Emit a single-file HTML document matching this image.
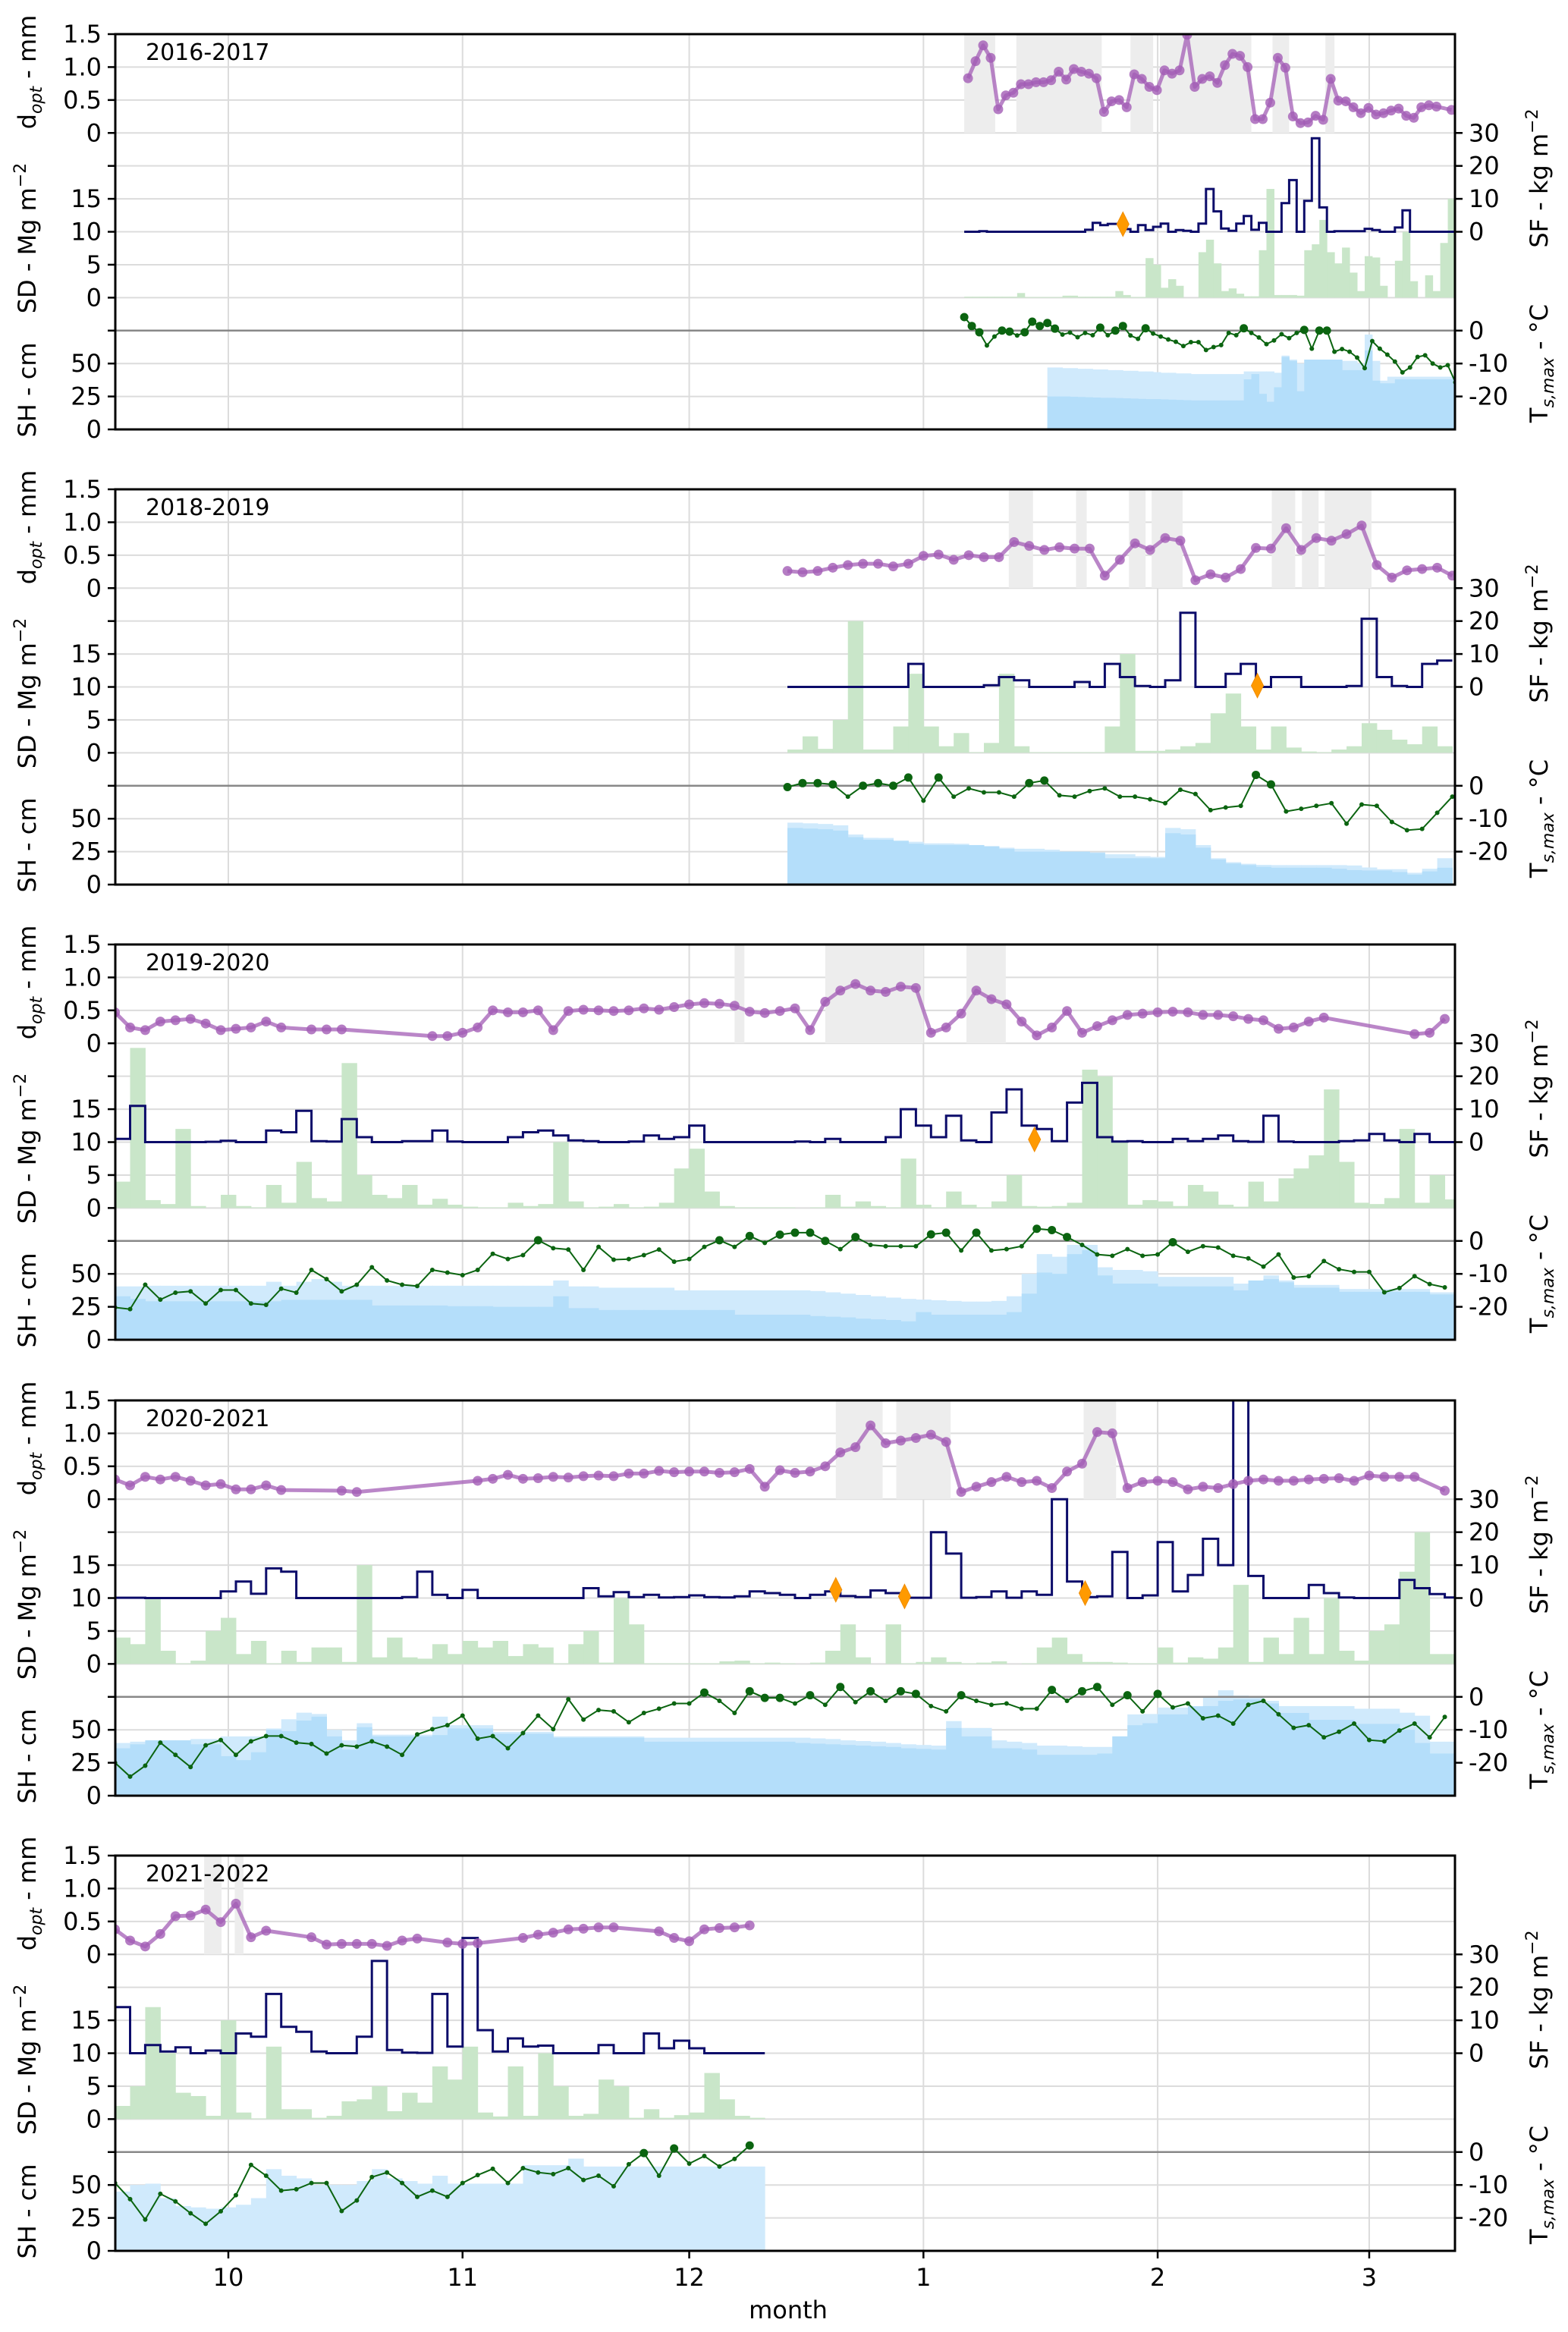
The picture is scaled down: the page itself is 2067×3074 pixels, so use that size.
<!DOCTYPE html>
<html><head><meta charset="utf-8"><title>Snow panels</title>
<style>html,body{margin:0;padding:0;background:#fff}svg{display:block}text{font-family:"DejaVu Sans","Liberation Sans",sans-serif;fill:#000}</style>
</head><body>
<svg id="chart" xmlns="http://www.w3.org/2000/svg" width="2067" height="3074" viewBox="0 0 2067 3074"></svg>
<script>
// ---------- DATA (days since Oct 1) ----------
const seasonLabels = ["2016-2017","2018-2019","2019-2020","2020-2021","2021-2022"];
const monthTickDays = [0,31,61,92,123,151];
const monthTickLabels = ["10","11","12","1","2","3"];

// 2016-2017
const step16 = 1;
const dopt16Start = 97.9;
const dopt16 = [0.83,1.09,1.33,1.14,0.36,0.57,0.61,0.74,0.74,0.77,0.77,0.8,0.93,0.81,0.97,0.93,0.9,0.83,0.32,0.48,0.5,0.39,0.89,0.82,0.7,0.65,0.95,0.9,0.95,1.49,0.7,0.82,0.86,0.76,1.03,1.2,1.17,1.0,0.21,0.21,0.46,1.14,0.99,0.25,0.15,0.16,0.26,0.2,0.82,0.49,0.48,0.39,0.3,0.38,0.28,0.3,0.34,0.37,0.26,0.23,0.39,0.42,0.4,null,0.35];
const start16 = 97.4;
const sf16 = [0,0,0.2,0,0,0,0,0,0,0,0,0,0,0,0,0,0.6,2.7,2,2.4,2.4,0.8,0,2,0.5,1.5,2.5,0,0.5,0.3,0,2.5,13,6.2,1,0.3,2.5,4.8,0.6,2.7,0,0,8.7,15.7,0,9.4,28.4,7.4,0,0.2,0.2,0.2,0.2,0.9,0.5,0,0,1.3,6.5,0,0,0,0,0,0];
const sd16 = [0.15,0.15,0.15,0.15,0.15,0.15,0.15,0.7,0.1,0.1,0.1,0.1,0.1,0.3,0.3,0.15,0.15,0.15,0.15,0.15,1,0.4,0.1,0.1,6,5,1.5,2.8,1.8,0,0,6.9,8.8,5.2,1,1.4,0.6,0.2,0.2,7.2,16.5,0.4,0.4,0.4,0.3,7.2,8.1,11.8,6.9,5.2,7.6,3.8,1,6.3,6.1,1.8,0,5.6,10,2.5,0,3.4,1,8.3,15];
const ts16 = [4.1,1.4,-0.5,-4.5,-1.8,0,-0.3,-1.5,-0.5,2.7,1.4,2.3,0.6,-1.2,-0.6,-2,-0.7,-1.4,0.9,-1.4,0,1.4,-1.5,-2.5,0.7,-0.9,-1.8,-2.7,-3.4,-4.7,-3.5,-3.5,-5.9,-5,-4.4,-0.7,-1.4,0.7,-0.7,-2.1,-4.1,-3,-1.1,-2.3,-0.7,0.2,-5.5,0,0,-6.4,-5.6,-6.4,-8.2,-11.4,-3.2,-5.5,-7.3,-9.4,-12.7,-11.2,-8,-7.5,-10,-11.2,-10.5,-15.7];
const sh16Start = 108.4;
const shLight16 = [47,47,46.5,46.5,46,46,45.5,45.5,45,45,44.5,44.5,44,44,43.5,43,43,42.5,42.5,42,42,42,42,42,42,42,44,44,44,44,43,56,53,50,53,53,53,53,53,52,52,50,72,52,37,40,40,40,40,40,40,40,40,40];
const shDark16 = [25,25,25,24.8,24.6,24.4,24.2,24,24,23.8,23.6,23.4,23.2,23,23,22.8,22.6,22.4,22.2,22,22,22,22,22,22,22,38,42,27,21,32,55,52,29,53,53,53,53,53,45,45,45,60,37,35,35,38,38,38,38,38,38,38,38];
const bands16 = [[97.4,101.5],[104.3,115.6],[119.4,122.4],[123.3,135.4],[138.2,140.4],[145.2,146.4]];
const diamonds16 = [[118.4,2.3]];

// 2018-2019
const step18 = 2;
const start18 = 74;
const dopt18 = [0.26,0.24,0.26,0.31,0.35,0.37,0.37,0.33,0.37,0.49,0.51,0.43,0.5,0.47,0.47,0.7,0.64,0.58,0.62,0.6,0.6,0.19,0.43,0.68,0.58,0.76,0.72,0.12,0.21,0.16,0.29,0.61,0.6,0.91,0.58,0.76,0.72,0.82,0.95,0.35,0.16,0.27,0.29,0.31,0.19];
const sf18 = [0,0,0,0,0,0,0,0,7,0,0,0,0,0.5,3,2,0,0,0,1.5,0,7,3,0.3,0,2,22.5,0,0,4,7,0,3,3,0,0,0,0.3,20.7,3,0.3,0,7,8];
const sd18 = [0.5,2.5,0.6,5,20,0.5,0.5,4,12,4,1,3,0.1,1.5,12,1,0.1,0.1,0.1,0.1,0.1,4,15,0.3,0.3,0.5,1,1.5,6,9,4,0.5,4,0.8,0.2,0.1,0.5,1,4.5,3.5,2,1.3,4,1];
const ts18 = [-0.4,0.8,0.8,0.4,-3.3,0,0.8,0,2.5,-4.5,2.5,-3.3,-0.8,-2,-2,-3.3,0.8,1.6,-2.9,-3.3,-1.6,-0.8,-3.3,-3.3,-4.1,-5.3,-1.2,-2.5,-7.4,-6.6,-6.1,3.3,0.4,-7.8,-7,-6.1,-5.3,-11.5,-5.7,-6.1,-11,-13.5,-13.1,-8.2,-3.3];
const shLight18 = [47,46.5,46,45,38,35.5,35.4,33.5,32.5,31.3,31.3,31,29.5,29.2,28,27.2,27.2,26.5,25.1,25.1,24.5,23,23,21.5,21,43,42,30,20,17,15.8,15,14.8,14.8,14.8,14.8,14.8,14.5,13,11.7,11.7,9,12,20];
const shDark18 = [43,42.5,42,41,36,34,34,33,31,30,30,30,30,29,27,25,25,25,25,25,24,20,20,20,20,39,38,28,19,16,14.8,13.5,12.8,12.8,12.8,12.8,12,11,10.7,10.7,9.5,7.6,10,12.8];
const bands18 = [[103.3,106.5],[112.2,113.6],[119.2,121.4],[122.2,126.3],[138.1,141.2],[142.1,144.3],[145.1,151.3]];
const diamonds18 = [[136.2,0.4]];

// 2019-2020
const step19 = 2;
const start19 = -15;
const dopt19 = [0.47,0.24,0.2,0.33,0.35,0.37,0.3,0.2,0.22,0.24,0.33,0.24,null,0.21,0.21,0.21,null,null,null,null,null,0.11,0.11,0.16,0.24,0.5,0.47,0.47,0.5,0.2,0.49,0.51,0.5,0.49,0.5,0.53,0.51,0.55,0.59,0.61,0.6,0.57,0.48,0.46,0.49,
  0.53,0.2,0.63,0.8,0.9,0.8,0.78,0.86,0.84,0.16,0.24,0.45,0.8,0.67,0.59,0.33,0.12,0.24,0.49,0.16,0.26,0.35,0.43,0.45,0.47,0.48,0.47,0.43,0.43,0.41,0.37,0.35,0.22,0.24,0.33,0.39,null,null,null,null,null,0.14,0.16,0.37];
const sf19 = [1,11,0,0,0,0,0.1,0.4,0,0,3.5,3,9.5,0.3,0.2,7,1.5,0,0,0.3,0.3,3.5,0.2,0,0,0,1.5,3,3.5,2,0.5,0.3,0,0,0.2,2,1,1.5,5,0,0,0,0,0,0,
  0.2,0,1,0,0,0,1.5,10,5,1.5,8,0.5,0,9,16,5,4,0.3,12,18,1.5,0.2,0.3,0,0,1,0.3,1,2,0.3,0.1,8,0.2,0,0,0,0.3,0.5,2.5,0.5,0,2.5,0,0];
const sd19 = [4,24.3,1.2,0.6,12,0.3,0,2,0.3,0.1,3.5,0.8,7,1.5,1,22,5,2,1.5,3.5,0.5,1.4,0.5,0.2,0.1,0.1,0.8,0.3,0.6,10,1,0.1,0.2,0.6,0.1,0.2,0.8,6,9,2.5,0.3,0.1,0.1,0.1,0.1,
  0,0.1,2,0.2,1,0.3,0.1,7.5,0.5,0.1,2.5,0.5,0.1,1,5,0.3,0.2,0.3,0.8,21,20,10,0.5,1.2,1,0.3,3.5,2.5,0.5,0.2,4,1,4.5,6,8,18,7,0.8,0.6,1.5,12,0.8,5,1.3];
const ts19 = [-20.2,-20.7,-13.3,-17.8,-15.7,-15.3,-19,-14.9,-14.9,-19,-19.4,-14.5,-15.7,-8.8,-11.6,-15.3,-13.3,-8,-12,-13.3,-13.7,-8.8,-9.6,-10.4,-8.8,-3.9,-5.5,-4.3,0.2,-2.2,-2.6,-8.8,-1.8,-5.7,-5.5,-4.3,-2.6,-6.3,-5.5,-1.8,0.2,-1.8,1.5,-0.6,1.9,
  2.5,2.5,0,-2.5,1.2,-1.2,-1.6,-1.6,-1.6,2,2.5,-2.9,2.5,-2.9,-2.5,-1.6,3.7,3.3,1.2,-1.2,-4.1,-4.5,-2.5,-4.5,-4.1,-0.4,-3.3,-1.6,-2,-4.5,-5.3,-7.8,-4.1,-11.1,-10.7,-6.1,-8.6,-9.4,-9.4,-15.6,-14.3,-10.7,-13.1,-14.1];
const shLight19 = [40.5,40.5,41,41,41,41,41,41,41,41,44,41,44,46,44,41,41,41,41,41,41,41,41,41,41,41,41,41,41,45,40.5,40.5,39.5,39.5,39.5,39.5,39.5,37.5,37.5,37.5,37.5,37.5,37.5,37.5,37.5,
  37.5,37,36,35,34,33,32,31,30.5,30,29.5,29,29,29.5,33,50,65,63,72,72,55,53,53,52,47.7,47.7,47.7,47.7,47.7,42.6,43,48.8,45,41.6,41.6,41.6,38.5,38.5,38.5,38.5,38.5,38.5,36,36];
const shDark19 = [33,31,29.2,29.2,29.2,29.2,29.2,29.2,29.2,29.2,29.2,30.3,30.3,30.3,30.3,30.3,30.3,26,26,26,26,26,25.5,25.5,25.5,25,25,25,25,33,24,24,22.6,22.6,22.6,22.6,22.6,22.6,22.6,22.6,22.6,19,19,19,19,
  19,18,17.5,17,16,15.5,15,14,21,19,19,19,19,19,21,35,51,50,65,68,48.8,42.6,42.6,42.6,40.5,40.5,40.5,40.5,40.5,37.5,45,46,43.6,39.5,39.5,39.5,36.4,36.4,36.4,36.4,36.4,36.4,34.4,34.4];
const bands19 = [[67.0,68.3],[79.0,92.0],[97.7,102.9]];
const diamonds19 = [[106.7,0.8]];

// 2020-2021
const step20 = 2;
const start20 = -15;
const dopt20 = [0.3,0.21,0.34,0.3,0.34,0.28,0.21,0.23,0.15,0.15,0.21,0.14,null,null,null,0.13,0.11,null,null,null,null,null,null,null,0.28,0.31,0.37,0.31,0.32,0.34,0.33,0.35,0.36,0.35,0.39,0.39,0.43,0.41,0.42,0.42,0.4,0.41,0.46,0.19,0.44,
  0.4,0.42,0.5,0.71,0.79,1.12,0.85,0.89,0.93,0.98,0.87,0.11,0.19,0.26,0.34,0.26,0.28,0.17,0.42,0.54,1.02,1.0,0.17,0.26,0.28,0.26,0.15,0.19,0.17,0.23,0.28,0.3,0.28,0.28,0.3,0.31,0.32,0.28,0.36,0.34,0.34,0.34,null,0.13];
const sf20 = [0.1,0.1,0,0,0,0,0,2,5,1.3,9,8,0,0,0,0,0,0,0,0.3,8,1,0,2.5,0,0,0,0,0,0,0,3,0.5,1.8,0.3,1,0.2,0.3,0.8,0.3,0.2,0.5,2,1.5,1,
  0,1,2,0.6,0.3,2.3,1.5,0.1,0.1,20,13.5,0.1,0.3,2,0.1,2,1,30,5,0.3,0.5,14,0,0.8,17,2,7,18,10,60,6.7,0,0,0,4,1.5,0.2,0,0,0,5.5,3,1.2,0.2];
const sd20 = [4,3,10,2,0.1,0.5,5,7,1.5,3.5,0.1,2,0.3,2.5,2.5,0.3,15,1,4,1,0.8,3,1.5,3.5,2.5,3.5,1.2,3,2.5,0.1,3,5,0.2,10,6,0.1,0.1,0.1,0.1,0.1,0.4,0.5,0.1,0.2,0.1,
  0,0.2,2,6,1,0,6,0.1,0.3,1,0.3,0.1,0.2,0.4,0,0.1,2.5,4,1.5,0.3,0.3,0.2,0.1,0.1,2.5,0.2,1,0.8,2.5,12,0.3,4,1.5,7,1.5,10,2,0.5,5,6,14,20,1.5,1.5];
const ts20 = [-20,-24.2,-20.9,-13.9,-17.6,-21.3,-14.7,-13.1,-17.6,-13.5,-11.9,-11.9,-13.9,-14.3,-17.2,-14.7,-15.1,-13.5,-15.1,-17.6,-11.4,-9.8,-8.6,-5.7,-12.7,-11.9,-15.6,-11,-5.7,-9.8,-0.7,-6.9,-4,-4.4,-7.7,-4.9,-3.6,-2,-2,1.3,-1.2,-4.9,1.7,-0.3,-0.3,
  -2,0.5,-2.4,3,-1.6,1.7,-1.2,1.7,0.9,-2.8,-4.4,0.5,-1.2,-2.4,-2,-3.6,-3.6,2.1,-1.2,1.7,3,-2.4,0.5,-4.4,0.9,-3.2,-2,-6.5,-5.7,-8.1,-2.4,-1.2,-5.3,-9.4,-8.6,-12.3,-10.6,-8.1,-13.1,-13.5,-10.2,-8.1,-12.3,-6.1];
const shLight20 = [40,41,42,42,42,43,43,45,45,45,51,58,63,62,50,42,55,46.3,46.3,46.3,46.3,60,53.5,53.5,53.5,48.4,48.4,48.4,48.4,45,45,45,45,45,45,44,44,44,44,44,44,44,44,44,44,
  44,43.5,43,42,41.5,41,40,39,38.5,38,56.6,51.4,51.4,42,41,40,38,38,37.5,37,37,45,61.7,62,66.9,66.9,66.9,75,80,76,75,72,68,68,68,68,68,66,66,66,63,60.7,41,41];
const shDark20 = [36,39,42,42,42,39,39,30,27,33,50,49,57,60,45,35,52,45,45,45,45,46,51,51,51,47,47,47,47,44,44,44,44,44,44,41,41,41,41,41,41,41,41,41,41,
  40,39.5,39,38.5,38,37.5,37,36,35.5,35,51.4,45,45,36,36,35,31,31,31,31,32,45,53.5,55,61.7,61.7,67.9,68,72,73,73,70,62.8,62.8,57.6,57.6,57.6,54.5,54.5,54.5,50,40,32,32];
const bands20 = [[80.4,86.6],[88.4,95.6],[113.2,117.5]];
const diamonds20 = [[80.4,2.5],[89.5,0.5],[113.4,1.5]];

// 2021-2022
const step21 = 2;
const start21 = -15;
const dopt21 = [0.38,0.21,0.12,0.31,0.58,0.59,0.68,0.49,0.77,0.26,0.36,null,null,0.26,0.15,0.16,0.16,0.16,0.13,0.21,0.24,null,0.18,0.16,0.17,null,null,0.25,0.3,0.33,0.38,0.39,0.41,0.41,null,null,0.35,0.25,0.2,0.38,0.4,0.41,0.44];
const sf21 = [14,0,2.5,0.5,1.8,0,0.8,0,6,5,18,8,6.5,0.5,0,0,5,28,1,0.2,0.1,18,2,35,7,0.5,4.5,2,2.3,0,0,0,2.5,0,0,6,1.5,3.8,1.5,0,0,0,0];
const sd21 = [2,5,17,10,4,3.5,0.5,15,1,0.1,11,1.5,1.5,0.2,0.5,2.7,3,5,1.2,4,2.5,8,6,11,1,0.4,8,0.5,10,5,0.5,0.8,6,5,0.2,1.5,0.2,0.6,1,7,3,0.5,0.2];
const ts21 = [-9.4,-14.3,-20.5,-12.7,-15,-18.6,-21.8,-18,-13.1,-3.9,-7.2,-11.7,-11.3,-9.4,-9.4,-17.9,-14.7,-7.6,-6.2,-9.4,-13.6,-11.7,-13.6,-9.4,-7,-5.1,-9.4,-4.9,-6.2,-6.7,-4.9,-8.5,-7.2,-10.4,-3.7,-0.3,-7.2,1.1,-3.5,-1.2,-4.4,-2.1,2];
const shLight21 = [45,50,51,40,34,33,32,33,35,40,62,57,55,50,50,50,53,62,55,53,51,57,51,51,51,51,51,65,65,65,70,64,64,64,64,64,64,64,64,64,64,64,64];
const shDark21 = [];
const bands21 = [[-3.2,-0.9],[0.84,2.0]];
const diamonds21 = [];

// ---------- LAYOUT ----------
const NS = "http://www.w3.org/2000/svg";
const svg = document.getElementById("chart");
const L = 152, R = 1918, H = 43.42;
const tops = [45,645,1245,1846,2446];
const xDay = d => 301 + d*9.96;

function mk(tag, attrs, parent){
  const e = document.createElementNS(NS, tag);
  for (const k in attrs) e.setAttribute(k, attrs[k]);
  (parent||svg).appendChild(e);
  return e;
}

const panels = [
  {dS:dopt16Start,dopt:dopt16,step:step16,start:start16,sf:sf16,sd:sd16,ts:ts16,shS:sh16Start,shL:shLight16,shD:shDark16,bands:bands16,dia:diamonds16},
  {dS:start18,dopt:dopt18,step:step18,start:start18,sf:sf18,sd:sd18,ts:ts18,shS:start18,shL:shLight18,shD:shDark18,bands:bands18,dia:diamonds18},
  {dS:start19,dopt:dopt19,step:step19,start:start19,sf:sf19,sd:sd19,ts:ts19,shS:start19,shL:shLight19,shD:shDark19,bands:bands19,dia:diamonds19},
  {dS:start20,dopt:dopt20,step:step20,start:start20,sf:sf20,sd:sd20,ts:ts20,shS:start20,shL:shLight20,shD:shDark20,bands:bands20,dia:diamonds20},
  {dS:start21,dopt:dopt21,step:step21,start:start21,sf:sf21,sd:sd21,ts:ts21,shS:start21,shL:shLight21,shD:shDark21,bands:bands21,dia:diamonds21}
];

const defs = mk("defs", {});
panels.forEach((p, pi) => {
  const T = tops[pi];
  const yD = v => T + (1.5 - v)*2*H;
  const ySF = v => T + 6*H - v*H/10;
  const ySD = v => T + 8*H - v*H/5;
  const yTs = v => T + 9*H - v*H/10;
  const ySH = v => T + 12*H - v*H/25;
  const cp = mk("clipPath", {id:"clip"+pi}, defs);
  mk("rect", {x:L, y:T, width:R-L, height:12*H}, cp);

  const g = mk("g", {"clip-path":"url(#clip"+pi+")"});
  
  

  // grid
  for (let r = 1; r <= 11; r++) {
    if (r === 9) continue;
    const ln = mk("line", {x1:L, x2:R, y1:T+r*H, y2:T+r*H, stroke:"#dcdcdc", "stroke-width":2}, g);
    
    
  }
  monthTickDays.forEach(d => {
    const ln = mk("line", {x1:xDay(d), x2:xDay(d), y1:T, y2:T+12*H, stroke:"#dcdcdc", "stroke-width":2}, g);
    
    
  });

  // gray bands (dopt region)
  p.bands.forEach(b => {
    const r = mk("rect", {x:xDay(b[0]), y:T, width:(b[1]-b[0])*9.96, height:3*H, fill:"#ededed"}, g);
    
    
  });

  // snow height bars
  p.shL.forEach((v, i) => {
    const x = xDay(p.shS + i*p.step);
    const r = mk("rect", {x:x, y:ySH(v), width:p.step*9.96+0.5, height:ySH(0)-ySH(v), fill:"#d0eafc"}, g);
    
    
  });
  p.shD.forEach((v, i) => {
    const x = xDay(p.shS + i*p.step);
    const r = mk("rect", {x:x, y:ySH(v), width:p.step*9.96+0.5, height:ySH(0)-ySH(v), fill:"#b4defa"}, g);
    
    
  });

  // SD green bars
  p.sd.forEach((v, i) => {
    const x = xDay(p.start + i*p.step);
    const r = mk("rect", {x:x, y:ySD(v), width:p.step*9.96+0.5, height:ySD(0)-ySD(v), fill:"#c9e6c9"}, g);
    
    
  });

  // Ts zero line
  const zl = mk("line", {x1:L, x2:R, y1:T+9*H, y2:T+9*H, stroke:"#888", "stroke-width":2.5}, g);
  
  

  // SF step line
  let d = "";
  p.sf.forEach((v, i) => {
    const x0 = xDay(p.start + i*p.step), x1 = xDay(p.start + (i+1)*p.step);
    d += (i === 0 ? "M" : "L") + x0.toFixed(1) + "," + ySF(v).toFixed(1) + "L" + x1.toFixed(1) + "," + ySF(v).toFixed(1);
  });
  const sfp = mk("path", {d:d, fill:"none", stroke:"#0c0c6a", "stroke-width":3}, g);
  
  

  // dopt line + markers
  const pts = [];
  p.dopt.forEach((v, i) => { if (v !== null) pts.push([xDay(p.dS + i*p.step), yD(v)]); });
  const dl = mk("polyline", {points:pts.map(q => q[0].toFixed(1)+","+q[1].toFixed(1)).join(" "), fill:"none", stroke:"#a35db5", "stroke-opacity":0.75, "stroke-width":5, "stroke-linejoin":"round"}, g);
  
  
  pts.forEach(q => {
    const c = mk("circle", {cx:q[0], cy:q[1], r:6.5, fill:"#a35db5", "fill-opacity":0.8}, g);
    
    
  });

  // Ts line + markers
  const tp = p.ts.map((v, i) => [xDay(p.start + i*p.step), yTs(v), v]);
  const tl = mk("polyline", {points:tp.map(q => q[0].toFixed(1)+","+q[1].toFixed(1)).join(" "), fill:"none", stroke:"#0b6410", "stroke-width":2}, g);
  
  
  tp.forEach(q => {
    const c = mk("circle", {cx:q[0], cy:q[1], r:(q[2] >= -0.5 ? 5.5 : 3), fill:"#0b6410"}, g);
    
    
  });

  // diamonds
  p.dia.forEach(m => {
    const x = xDay(m[0]), y = ySF(m[1]);
    const dm = mk("polygon", {points:`${x},${y-16} ${x+8},${y} ${x},${y+16} ${x-8},${y}`, fill:"#ff9a00", stroke:"#f08c00", "stroke-width":1}, g);
    
    
  });

  // frame
  const fr = mk("rect", {x:L, y:T, width:R-L, height:12*H, fill:"none", stroke:"#000", "stroke-width":3});
  
  

  // year label
  const yl = mk("text", {x:192, y:T+34, "font-size":30});
  yl.textContent = seasonLabels[pi];
  
  

  // left ticks
  const leftTicks = [[0,"1.5"],[1,"1.0"],[2,"0.5"],[3,"0"],[4,""],[5,"15"],[6,"10"],[7,"5"],[8,"0"],[9,""],[10,"50"],[11,"25"],[12,"0"]];
  leftTicks.forEach(t => {
    const y = T + t[0]*H;
    const tk = mk("line", {x1:142, x2:L, y1:y, y2:y, stroke:"#000", "stroke-width":2.5});
    
    
    if (t[1]) {
      const tx = mk("text", {x:134, y:y+11, "font-size":32, "text-anchor":"end"});
      tx.textContent = t[1];
      
      
    }
  });
  const rightTicks = [[3,"30"],[4,"20"],[5,"10"],[6,"0"],[9,"0"],[10,"-10"],[11,"-20"]];
  rightTicks.forEach(t => {
    const y = T + t[0]*H;
    const tk = mk("line", {x1:R, x2:R+10, y1:y, y2:y, stroke:"#000", "stroke-width":2.5});
    
    
    const tx = mk("text", {x:R+18, y:y+11, "font-size":32});
    tx.textContent = t[1];
    
    
  });

  // axis titles
  function vlabel(x, y, html, name){
    const t = mk("text", {x:x, y:y, "font-size":32, "text-anchor":"middle", transform:`rotate(-90 ${x} ${y})`});
    t.innerHTML = html;
    
    
  }
  vlabel(47, T+50, 'd<tspan font-size="22" font-style="italic" dy="8">opt</tspan><tspan dy="-8"> - mm</tspan>', 'dopt-axis-title');
  vlabel(47, T+269, 'SD - Mg m<tspan font-size="22" dy="-13">−2</tspan>', 'sd-axis-title');
  vlabel(47, T+469, 'SH - cm', 'sh-axis-title');
  vlabel(2040, T+190, 'SF - kg m<tspan font-size="22" dy="-13">−2</tspan>', 'sf-axis-title');
  vlabel(2040, T+434, 'T<tspan font-size="22" font-style="italic" dy="8">s,max</tspan><tspan dy="-8"> - °C</tspan>', 'ts-axis-title');
});

// bottom x axis
const B = tops[4] + 12*H;
monthTickDays.forEach((d, i) => {
  const tk = mk("line", {x1:xDay(d), x2:xDay(d), y1:B, y2:B+10, stroke:"#000", "stroke-width":2.5});
  
  
  const t = mk("text", {x:xDay(d), y:B+46, "font-size":32, "text-anchor":"middle"});
  t.textContent = monthTickLabels[i];
  
  
});
const xt = mk("text", {x:1039, y:B+89, "font-size":32, "text-anchor":"middle"});
xt.textContent = "month";


</script>
</body></html>
